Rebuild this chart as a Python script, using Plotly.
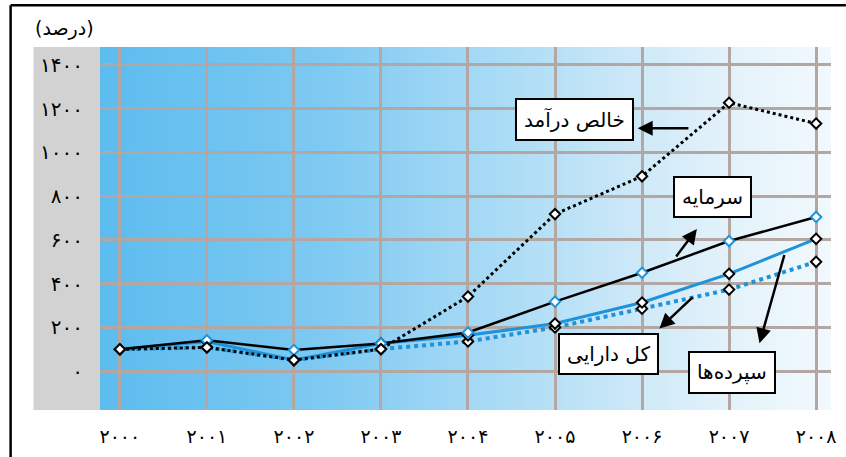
import plotly.graph_objects as go

# ---------------- data ----------------
years = [2000, 2001, 2002, 2003, 2004, 2005, 2006, 2007, 2008]
year_labels = ["۲۰۰۰", "۲۰۰۱", "۲۰۰۲", "۲۰۰۳", "۲۰۰۴", "۲۰۰۵", "۲۰۰۶", "۲۰۰۷", "۲۰۰۸"]
y_ticks = [0, 200, 400, 600, 800, 1000, 1200, 1400]
y_tick_labels = ["۰", "۲۰۰", "۴۰۰", "۶۰۰", "۸۰۰", "۱۰۰۰", "۱۲۰۰", "۱۴۰۰"]

capital = [100, 141, 97, 127, 177, 318, 450, 595, 705]        # سرمایه
deposits = [100, 136, 51, 127, 164, 218, 314, 445, 605]       # سپرده‌ها
total_assets = [100, 109, 51, 101, 136, 200, 286, 373, 500]   # کل دارایی
net_income = [100, 109, 51, 101, 341, 718, 891, 1227, 1132]   # خالص درآمد

unit_label = "(درصد)"
name_capital = "سرمایه"
name_deposits = "سپرده‌ها"
name_assets = "کل دارایی"
name_income = "خالص درآمد"

# ---------------- layout geometry ----------------
W, H = 846, 457
L, R, T, B = 100, 836, 47, 412
FONT = "DejaVu Sans"
BLUE = "#1E93DA"


def px(x):
    return (x - L) / (R - L)


def py(y):
    return (B - y) / (B - T)


fig = go.Figure()

marker_black = dict(symbol="diamond", size=8, color="white", line=dict(color="black", width=2))
marker_blue = dict(symbol="diamond", size=8, color="white", line=dict(color=BLUE, width=2))

fig.add_trace(go.Scatter(x=years, y=total_assets, mode="lines+markers", name=name_assets,
                         line=dict(color=BLUE, width=4, dash="dot"), marker=marker_black))
fig.add_trace(go.Scatter(x=years, y=deposits, mode="lines+markers", name=name_deposits,
                         line=dict(color=BLUE, width=3), marker=marker_black))
fig.add_trace(go.Scatter(x=years, y=capital, mode="lines+markers", name=name_capital,
                         line=dict(color="black", width=2.5), marker=marker_blue))
fig.add_trace(go.Scatter(x=years, y=net_income, mode="lines+markers", name=name_income,
                         line=dict(color="black", width=3, dash="dot"), marker=marker_black))

shapes = []
# gray panel behind y labels
shapes.append(dict(type="rect", xref="paper", yref="paper", x0=px(33), x1=px(L), y0=0, y1=1,
                   fillcolor="#D2D2D2", line=dict(width=0), layer="below"))

# horizontal gradient background of the plot area
stops = [(0.0, (92, 188, 238)), (0.3, (125, 201, 242)), (0.6, (180, 223, 246)),
         (0.85, (226, 241, 250)), (1.0, (242, 249, 253))]


def grad(t):
    for (t0, c0), (t1, c1) in zip(stops[:-1], stops[1:]):
        if t <= t1:
            f = (t - t0) / (t1 - t0)
            return tuple(round(a + (b - a) * f) for a, b in zip(c0, c1))
    return stops[-1][1]


n = 120
for i in range(n):
    c = grad((i + 0.5) / n)
    shapes.append(dict(type="rect", xref="paper", yref="paper", x0=i / n, x1=min(1, (i + 1.6) / n),
                       y0=0, y1=1, fillcolor="rgb(%d,%d,%d)" % c, line=dict(width=0), layer="below"))

# frame lines (top and left)
shapes.append(dict(type="line", xref="paper", yref="paper", x0=px(10), x1=px(W + 5), y0=py(5), y1=py(5),
                   line=dict(color="black", width=2.5)))
shapes.append(dict(type="line", xref="paper", yref="paper", x0=px(10), x1=px(10), y0=py(5), y1=py(H + 5),
                   line=dict(color="black", width=2.5)))

annotations = [dict(text=unit_label, xref="paper", yref="paper", x=px(64), y=py(28),
                    xanchor="center", yanchor="middle", showarrow=False,
                    font=dict(family=FONT, size=19, color="black"))]


def label_box(text, x, y):
    return dict(text=text, x=x, y=y, xref="x", yref="y", showarrow=False,
                font=dict(family=FONT, size=20, color="black"), bgcolor="white",
                bordercolor="black", borderwidth=2, borderpad=7)


def arrow(x_head, y_head, x_tail, y_tail):
    return dict(text="", x=x_head, y=y_head, ax=x_tail, ay=y_tail, xref="x", yref="y",
                axref="x", ayref="y", showarrow=True, arrowhead=2, arrowsize=1.2,
                arrowwidth=2.5, arrowcolor="black", standoff=0, startstandoff=0)


annotations += [
    label_box(name_income, 2005.22, 1150),
    arrow(2005.95, 1110, 2006.55, 1110),
    label_box(name_capital, 2006.81, 795),
    arrow(2006.63, 650, 2006.38, 518),
    label_box(name_assets, 2005.62, 77),
    arrow(2006.2, 195, 2006.6, 345),
    label_box(name_deposits, 2007.03, -5),
    arrow(2007.35, 128, 2007.64, 538),
]

x_per_px = 8 / (821 - 120)
y_per_px = 200 / 44.0

fig.update_layout(
    width=W, height=H,
    margin=dict(l=L, r=W - R, t=T, b=H - B, pad=0),
    paper_bgcolor="white",
    plot_bgcolor="rgba(0,0,0,0)",
    showlegend=False,
    shapes=shapes,
    annotations=annotations,
    font=dict(family=FONT, color="black"),
    xaxis=dict(range=[2000 - (120 - L) * x_per_px, 2008 + (R - 821) * x_per_px],
               tickvals=years, ticktext=year_labels, showgrid=True, gridcolor="#B3A7A3", gridwidth=3,
               zeroline=False, showline=False, ticks="", tickfont=dict(family=FONT, size=19),
               ticklabelstandoff=13, fixedrange=True),
    yaxis=dict(range=[-(B - 373) * y_per_px, (373 - T) * y_per_px],
               tickvals=y_ticks, ticktext=y_tick_labels, showgrid=True, gridcolor="#B3A7A3", gridwidth=3,
               zeroline=False, showline=False, ticks="", tickfont=dict(family=FONT, size=20),
               ticklabelstandoff=16, fixedrange=True),
)

fig.write_html("out.html")
